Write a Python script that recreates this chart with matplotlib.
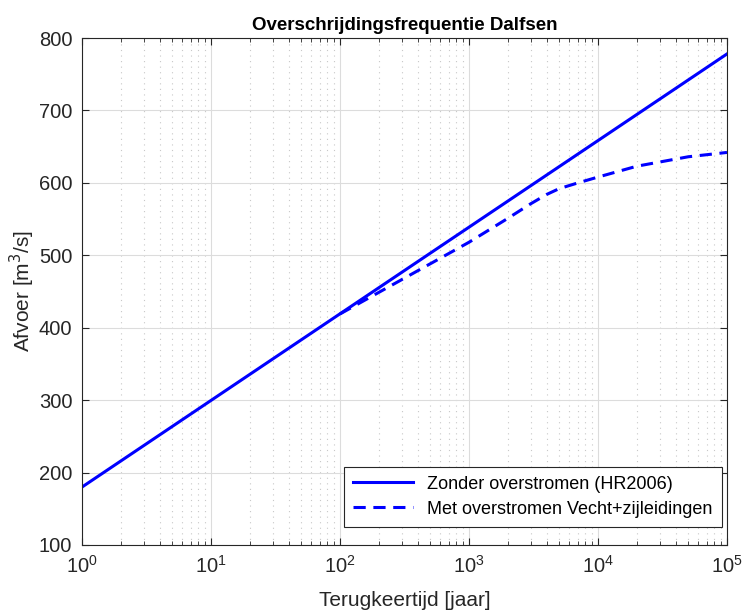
import numpy as np
import matplotlib.pyplot as plt

plt.rcParams['font.family'] = ['Liberation Sans', 'DejaVu Sans']

# Zonder overstromen (HR2006)
T_hr = [1, 10, 100, 1000, 10000, 100000]
Q_hr = [180, 299.6, 419.2, 538.8, 658.4, 778]

# Met overstromen Vecht+zijleidingen
T_met = [100, 1000, 2000, 3000, 4000, 5000, 7000, 10000, 20000, 50000, 100000]
Q_met = [419, 518, 551, 571, 584, 592, 600, 608, 623, 636, 642]

fig = plt.figure(figsize=(7.44, 6.14), dpi=100)
ax = fig.add_axes([82/744, 1 - 545/614, 645/744, 507/614])

ax.semilogx(T_hr, Q_hr, '-', color='#0000ff', lw=2.2, label='Zonder overstromen (HR2006)')
ax.semilogx(T_met, Q_met, '--', color='#0000ff', lw=2.2, dashes=(4, 2.5),
            label='Met overstromen Vecht+zijleidingen')

ax.set_xlim(1, 1e5)
ax.set_ylim(100, 800)
ax.set_yticks(range(100, 801, 100))
ax.grid(True, which='major', color='#dcdcdc', lw=0.8)
ax.grid(True, which='minor', axis='x', color='#c8c8c8', lw=0.8, linestyle=(0, (1, 4)))
ax.tick_params(which='both', direction='in', top=True, right=True, labelsize=14.5,
               colors='#262626', pad=7)
ax.tick_params(which='major', length=5)
ax.tick_params(which='minor', length=3)
for s in ax.spines.values():
    s.set_color('#262626')

ax.set_title('Overschrijdingsfrequentie Dalfsen', fontsize=13.5, fontweight='bold')
ax.set_xlabel('Terugkeertijd [jaar]', fontsize=15, color='#262626', labelpad=10)
ax.set_ylabel('Afvoer [m$^3$/s]', fontsize=15, color='#262626', labelpad=1)

leg = ax.legend(loc='lower right', fontsize=13, fancybox=False, framealpha=1,
                edgecolor='#262626', handlelength=3.3, borderpad=0.5, labelspacing=0.45,
                borderaxespad=0, bbox_to_anchor=(0.992, 0.036))
leg.get_frame().set_linewidth(0.8)

fig.savefig('out.png', dpi=100)
